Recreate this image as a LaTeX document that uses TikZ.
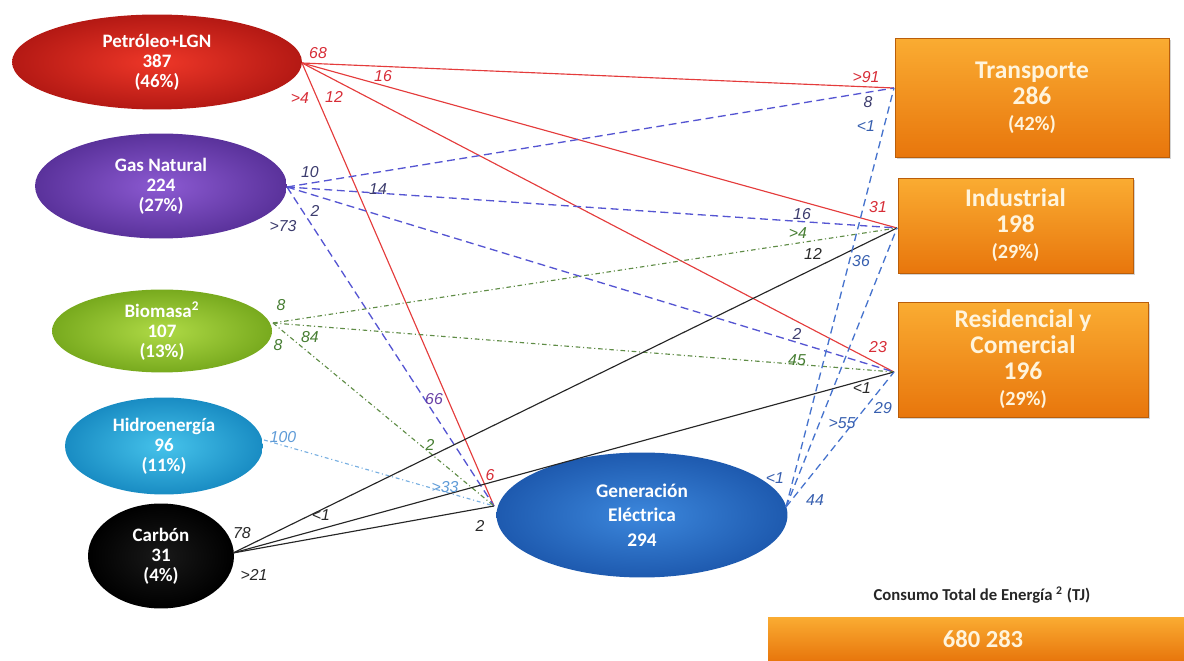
\documentclass[tikz,border=0pt]{standalone}
\usepackage{fontspec}
\setmainfont{Carlito}
\newfontfamily\labfont{Liberation Sans}
\usetikzlibrary{shapes.geometric,shadows}
\definecolor{cred}{RGB}{228,60,60}
\definecolor{cgas}{RGB}{85,85,210}
\definecolor{cgen}{RGB}{70,115,205}
\definecolor{cbio}{RGB}{95,140,70}
\definecolor{chid}{RGB}{120,175,225}
\definecolor{lred}{RGB}{215,45,55}
\definecolor{lgas}{RGB}{60,60,110}
\definecolor{lpur}{RGB}{105,65,165}
\definecolor{lgrn}{RGB}{70,125,50}
\definecolor{lhid}{RGB}{95,155,215}
\definecolor{lgen}{RGB}{55,95,175}
\definecolor{ldk}{RGB}{40,40,40}
\definecolor{ortop}{RGB}{250,172,50}
\definecolor{orbot}{RGB}{232,118,12}
\definecolor{boxtxt}{RGB}{255,244,220}
\begin{document}
\begin{tikzpicture}[x=0.02cm,y=-0.02cm,
  src/.style={ellipse,inner sep=0pt,text=white,align=center,
    font=\fontsize{10.8}{11.4}\selectfont\bfseries},
  sect/.style={rectangle,inner sep=0pt,text=boxtxt,align=center,
    top color=ortop,bottom color=orbot,draw=orbot!80!black,line width=0.3pt,
    drop shadow={shadow xshift=1.2pt,shadow yshift=-1.2pt,opacity=0.35},
    font=\fontsize{14.5}{14.8}\selectfont\bfseries},
  lab/.style={inner sep=0pt,font=\labfont\itshape\fontsize{9}{9}\selectfont},
  redl/.style={draw=cred,line width=0.65pt},
  gasl/.style={draw=cgas,line width=0.75pt,dash pattern=on 4.5pt off 2.6pt},
  genl/.style={draw=cgen,line width=0.75pt,dash pattern=on 4.2pt off 2.6pt},
  biol/.style={draw=cbio,line width=0.65pt,dash pattern=on 2.6pt off 1.6pt on 0.6pt off 1.6pt},
  hidl/.style={draw=chid,line width=0.65pt,dash pattern=on 2.2pt off 1.6pt on 0.6pt off 1.6pt},
  carl/.style={draw=black!85,line width=0.65pt}
]
\useasboundingbox (0,0) rectangle (1184,661);

% source ellipses
\node[src,minimum width=5.8cm,minimum height=1.9cm,
  inner color={rgb,255:red,238;green,55;blue,40},outer color={rgb,255:red,180;green,25;blue,20}]
  (pet) at (157,62) {Petróleo+LGN\\387\\(46\%)};
\node[src,minimum width=5.04cm,minimum height=2.1cm,
  inner color={rgb,255:red,140;green,90;blue,210},outer color={rgb,255:red,90;green,50;blue,155}]
  (gas) at (161,186) {Gas Natural\\224\\(27\%)};
\node[src,minimum width=4.4cm,minimum height=1.6cm,
  inner color={rgb,255:red,175;green,218;blue,70},outer color={rgb,255:red,120;green,170;blue,30}]
  (bio) at (162,331) {Biomasa\textsuperscript{2}\\107\\(13\%)};
\node[src,minimum width=3.96cm,minimum height=1.94cm,
  inner color={rgb,255:red,70;green,195;blue,235},outer color={rgb,255:red,25;green,140;blue,195}]
  (hid) at (164,446) {Hidroenergía\\96\\(11\%)};
\node[src,minimum width=2.92cm,minimum height=2.1cm,
  inner color={rgb,255:red,25;green,25;blue,25},outer color=black]
  (car) at (161,556) {Carbón\\31\\(4\%)};
\node[src,minimum width=5.82cm,minimum height=2.5cm,font=\fontsize{11}{14}\selectfont\bfseries,
  inner color={rgb,255:red,60;green,135;blue,220},outer color={rgb,255:red,30;green,90;blue,175}]
  (gen) at (642,515) {Generación\\Eléctrica\\294};

% sector boxes
\node[sect,minimum width=5.48cm,minimum height=2.38cm] (tra) at (1032,97.5)
  {Transporte\\286\\{\fontsize{11.5}{14.8}\selectfont(42\%)}};
\node[sect,minimum width=4.7cm,minimum height=1.9cm] (ind) at (1015.5,225.5)
  {Industrial\\198\\{\fontsize{11.5}{14.8}\selectfont(29\%)}};
\node[sect,minimum width=5.0cm,minimum height=2.3cm] (res) at (1023,359.5)
  {Residencial y\\Comercial\\196\\{\fontsize{11.5}{14.8}\selectfont(29\%)}};

% total
\node[inner sep=0pt,font=\fontsize{9.5}{10}\selectfont\bfseries,text=black!85] (ttl) at (982,595)
  {Consumo Total de Energía \textsuperscript{2} (TJ)};
\node[rectangle,inner sep=0pt,minimum width=8.32cm,minimum height=0.88cm,
  top color=ortop,bottom color=orbot,text=boxtxt,font=\fontsize{14}{14}\selectfont\bfseries]
  (tot) at (976,639) {\hspace*{0.28cm}680 283};

% connection points
\coordinate (po) at (302,63);
\coordinate (go) at (287,187);
\coordinate (bo) at (273,323);
\coordinate (ho) at (264,440);
\coordinate (co) at (233,553);
\coordinate (gi) at (494,506);
\coordinate (ge) at (786,507);
\coordinate (ti) at (894,88);
\coordinate (ii) at (897,228);
\coordinate (ri) at (894,372);

% connectors
\draw[redl] (po) -- (ti);
\draw[redl] (po) -- (ii);
\draw[redl] (po) -- (ri);
\draw[redl] (po) -- (gi);
\draw[gasl] (go) -- (ti);
\draw[gasl] (go) -- (ii);
\draw[gasl] (go) -- (ri);
\draw[gasl] (go) -- (gi);
\draw[biol] (bo) -- (ii);
\draw[biol] (bo) -- (ri);
\draw[biol] (bo) -- (gi);
\draw[hidl] (ho) -- (gi);
\draw[carl] (co) -- (ii);
\draw[carl] (co) -- (ri);
\draw[carl] (co) -- (gi);
\draw[genl] (ge) -- (ti);
\draw[genl] (ge) -- (ii);
\draw[genl] (ge) -- (ri);

% labels: petroleo
\node[lab,text=lred] (l1) at (318,53) {68};
\node[lab,text=lred] (l2) at (383,76) {16};
\node[lab,text=lred] (l3) at (334,97) {12};
\node[lab,text=lred] (l4) at (300,98) {>4};
\node[lab,text=lred] (l5) at (866,77) {>91};
\node[lab,text=lred] (l6) at (878,207) {31};
\node[lab,text=lred] (l7) at (878,347) {23};
\node[lab,text=lred] (l8) at (490,475) {6};
% gas
\node[lab,text=lgas] (l9) at (310,172) {10};
\node[lab,text=lgas] (l10) at (378,189) {14};
\node[lab,text=lgas] (l11) at (315,211) {2};
\node[lab,text=lgas] (l12) at (283,226) {>73};
\node[lab,text=lgas] (l13) at (868,102) {8};
\node[lab,text=lgas] (l14) at (802,214) {16};
\node[lab,text=lgas] (l15) at (797,334) {2};
\node[lab,text=lpur] (l16) at (434,399) {66};
% biomasa
\node[lab,text=lgrn] (l17) at (281,305) {8};
\node[lab,text=lgrn] (l18) at (310,337) {84};
\node[lab,text=lgrn] (l19) at (278,345) {8};
\node[lab,text=lgrn] (l20) at (798,233) {>4};
\node[lab,text=lgrn] (l21) at (797,360) {45};
\node[lab,text=lgrn] (l22) at (430,445) {2};
% hidro
\node[lab,text=lhid] (l23) at (283,437) {100};
\node[lab,text=lhid] (l24) at (445,487) {>33};
% carbon
\node[lab,text=ldk] (l25) at (242,533) {78};
\node[lab,text=ldk] (l26) at (321,515) {<1};
\node[lab,text=ldk] (l27) at (254,575) {>21};
\node[lab,text=ldk] (l28) at (813,254) {12};
\node[lab,text=ldk] (l29) at (862,388) {<1};
\node[lab,text=ldk] (l30) at (480,526) {2};
% generacion
\node[lab,text=lgen] (l31) at (775,478) {<1};
\node[lab,text=lgen] (l32) at (815,500) {44};
\node[lab,text=lgen] (l33) at (842,423) {>55};
\node[lab,text=lgen] (l34) at (866,126) {<1};
\node[lab,text=lgen] (l35) at (861,261) {36};
\node[lab,text=lgen] (l36) at (883,408) {29};
\end{tikzpicture}
\end{document}
